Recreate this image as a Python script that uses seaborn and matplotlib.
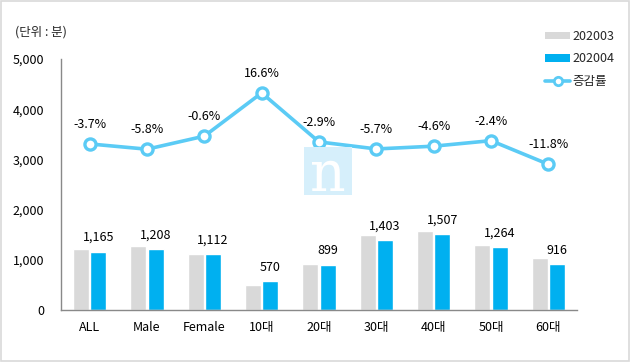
import numpy as np
import pandas as pd
import matplotlib
matplotlib.use("Agg")
import matplotlib.pyplot as plt
from matplotlib.patches import Rectangle, Patch
from matplotlib.lines import Line2D
from matplotlib.ticker import FuncFormatter
import seaborn as sns

# ---- data ----
categories = ["ALL", "Male", "Female", "10대", "20대", "30대", "40대", "50대", "60대"]
minutes_202003 = [1210, 1282, 1119, 489, 926, 1488, 1580, 1295, 1039]
minutes_202004 = [1165, 1208, 1112, 570, 899, 1403, 1507, 1264, 916]
change_pct = [-3.7, -5.8, -0.6, 16.6, -2.9, -5.7, -4.6, -2.4, -11.8]
periods = ["202003", "202004"]

GRAY = "#D9D9D9"
BLUE = "#00B0F0"
LINE = "#5BCBF5"
FS = 9

sns.set_theme(style="white")
plt.rcParams["font.family"] = ["Noto Sans CJK KR", "DejaVu Sans"]
plt.rcParams["axes.unicode_minus"] = False

df = pd.DataFrame({
    "category": categories * 2,
    "period": [periods[0]] * len(categories) + [periods[1]] * len(categories),
    "minutes": minutes_202003 + minutes_202004,
})

fig = plt.figure(figsize=(6.3, 3.62), dpi=100)
ax = fig.add_axes([61 / 630, 52 / 362, 516 / 630, 251 / 362])

sns.barplot(data=df, x="category", y="minutes", hue="period",
            palette=[GRAY, BLUE], saturation=1, width=0.6, gap=0.06,
            ax=ax, legend=False)

ax.set_ylim(0, 5000)
ax.set_xlim(-0.5, len(categories) - 0.5)
ax.set_yticks(range(0, 5001, 1000))
ax.yaxis.set_major_formatter(FuncFormatter(lambda v, p: f"{int(v):,}"))
ax.set_xlabel("")
ax.set_ylabel("")
ax.tick_params(axis="both", length=0, labelsize=FS, colors="black")
ax.tick_params(axis="y", pad=12)
ax.tick_params(axis="x", pad=8)
for side in ["top", "right"]:
    ax.spines[side].set_visible(False)
for side in ["left", "bottom"]:
    ax.spines[side].set_color("#898989")
    ax.spines[side].set_linewidth(1)

# value labels on the 202004 bars
bars_04 = ax.containers[1]
for rect, v in zip(bars_04, minutes_202004):
    ax.annotate(f"{v:,}", (rect.get_x() + rect.get_width() / 2, rect.get_height()),
                xytext=(0, 10), textcoords="offset points",
                ha="center", va="center", fontsize=FS, color="black")

# change rate line on hidden secondary axis
ax2 = ax.twinx()
x_pos = np.arange(len(categories))
sns.lineplot(x=x_pos, y=change_pct, ax=ax2, color=LINE, linewidth=2.6,
             marker="o", markersize=8, markerfacecolor="white",
             markeredgecolor=LINE, markeredgewidth=2.4, legend=False)
ax2.set_ylim(-69.8, 30.1)
ax2.set_yticks([])
ax2.set_ylabel("")
for side in ax2.spines.values():
    side.set_visible(False)
for xi, p in zip(x_pos, change_pct):
    ax2.annotate(f"{p:.1f}%", (xi, p), xytext=(0, 14), textcoords="offset points",
                 ha="center", va="center", fontsize=FS, color="black")

# unit label
fig.text(15 / 630, 1 - 32 / 362, "(단위 : 분)", fontsize=FS, ha="left", va="center")

# legend
handles = [
    Patch(facecolor=GRAY, edgecolor="none"),
    Patch(facecolor=BLUE, edgecolor="none"),
    Line2D([0], [0], color=LINE, linewidth=2.6, marker="o", markersize=6,
           markerfacecolor="white", markeredgecolor=LINE, markeredgewidth=2),
]
fig.legend(handles, ["202003", "202004", "증감률"], loc="upper left",
           bbox_to_anchor=(545 / 630, 1 - 30 / 362), frameon=False, fontsize=FS,
           handlelength=2.0, handleheight=0.55, handletextpad=0.2,
           labelspacing=0.75, borderpad=0, borderaxespad=0)

# watermark
fig.patches.append(Rectangle((304 / 630, 167 / 362), 48 / 630, 48 / 362,
                             transform=fig.transFigure, facecolor="#D6EFFB",
                             edgecolor="none", zorder=0))
fig.text(328 / 630, 186 / 362, "n", fontsize=40, color="white", ha="center",
         va="center", family="DejaVu Serif", zorder=1)

# outer border
fig.patches.append(Rectangle((0.002, 0.003), 0.996, 0.994, transform=fig.transFigure,
                             fill=False, edgecolor="#D9D9D9", linewidth=1.2))

fig.savefig("out.png", dpi=100)
